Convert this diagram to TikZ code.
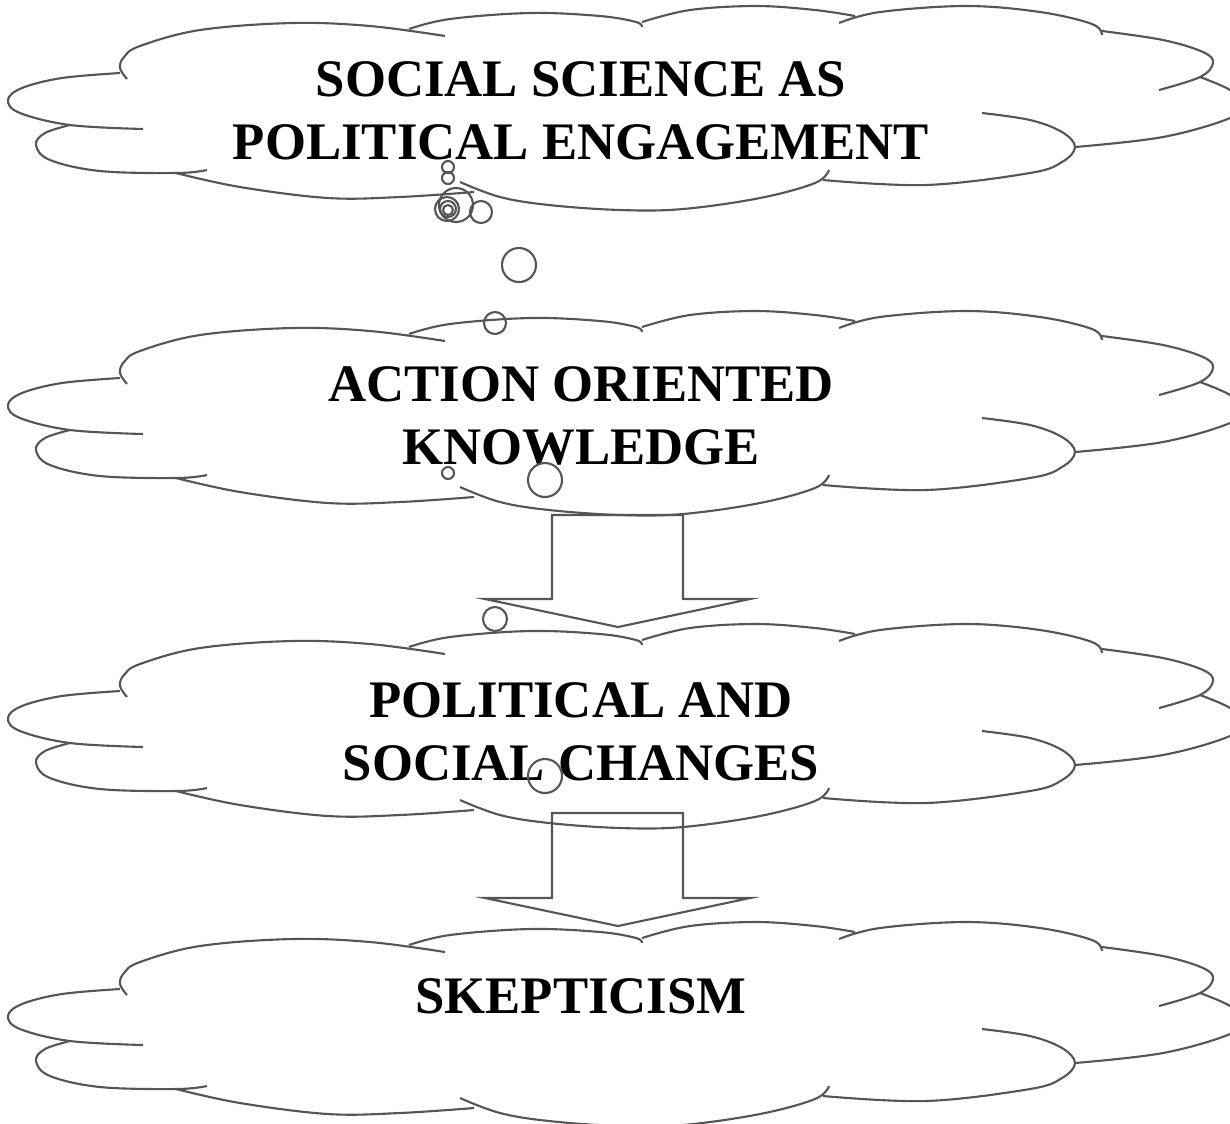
\documentclass[tikz,border=0pt]{standalone}
\usepackage{fontspec}
\setmainfont{Liberation Serif}
\usetikzlibrary{positioning}
\definecolor{cloudgray}{RGB}{85,85,85}

\tikzset{
  cloudline/.style={cloudgray,line width=0.6pt,smooth,tension=0.6},
  bubble/.style={cloudgray,line width=0.6pt},
  blockarrow/.style={cloudgray,line width=0.6pt,line join=miter},
  caption/.style={font=\bfseries\fontsize{15}{18}\selectfont,align=center,inner sep=0pt},
}

\begin{document}
\begin{tikzpicture}[x=0.01cm,y=-0.01cm]
  \useasboundingbox (0,0) rectangle (1230,1123);
  % the four clouds, one outline shifted down
  \foreach \dy in {0,305,618,916}{
    \begin{scope}[shift={(0,\dy)}]
      \draw[cloudline] plot coordinates {(127,79) (120,68) (124,57) (140,46) (200,30) (292,23) (370,26) (445,36)};
      \draw[cloudline] plot coordinates {(409,29) (450,19) (530,13) (600,16) (636,22) (642,27)};
      \draw[cloudline] plot coordinates {(642,22) (690,10) (756,6) (815,10) (855,16)};
      \draw[cloudline] plot coordinates {(839,23) (880,12) (966,6) (1040,12) (1092,24) (1102,35)};
      \draw[cloudline] plot coordinates {(1102,31) (1163,40) (1203,52) (1213,63) (1200,77) (1159,90)};
      \draw[cloudline] plot coordinates {(1200,77) (1230,90) (1240,104) (1230,118) (1163,137) (1075,147)};
      \draw[cloudline] plot coordinates {(982,113) (1030,120) (1062,132) (1075,147) (1062,162) (1030,173) (926,185) (823,180)};
      \draw[cloudline] plot coordinates {(460,182) (500,197) (549,205) (620,210) (683,209) (760,198) (815,183) (829,170)};
      \draw[cloudline] plot coordinates {(176,173) (240,187) (328,198) (400,197) (474,192)};
      \draw[cloudline] plot coordinates {(70,125) (45,133) (36,145) (50,160) (100,171) (177,173) (207,170)};
      \draw[cloudline] plot coordinates {(120,73) (62,78) (22,88) (8,100) (20,113) (70,125) (143,129)};
    \end{scope}
  }

  % texts
  \node[caption] (engage) at (581,111) {SOCIAL SCIENCE AS\\POLITICAL ENGAGEMENT};
  \node[caption] (knowledge) at (581,416) {ACTION ORIENTED\\KNOWLEDGE};
  \node[caption] (change) at (581,732) {POLITICAL AND\\SOCIAL CHANGES};
  \node[caption] (skeptic) at (581,996) {SKEPTICISM};

  % bubbles
  \draw[bubble] (448,167) circle[radius=6];
  \draw[bubble] (448,178) circle[radius=6];
  \draw[bubble] (456,205) circle[radius=17];
  \draw[bubble] (447,209) circle[radius=12];
  \draw[bubble] (448,209) circle[radius=8];
  \draw[bubble] (448,210) circle[radius=5];
  \draw[bubble] (481,212) circle[radius=11];
  \draw[bubble] (519,265) circle[radius=17];
  \draw[bubble] (495,323) circle[radius=11];
  \draw[bubble] (448,473) circle[radius=6];
  \draw[bubble] (545,480) circle[radius=17];
  \draw[bubble] (495,619) circle[radius=12];
  \draw[bubble] (545,776) circle[radius=17];

  % block arrows
  \foreach \ytop/\ysh/\ytip in {515/599/627,813/898/926}
    \draw[blockarrow] (552,\ytop) -- (683,\ytop) -- (683,\ysh) -- (750,\ysh) -- (618,\ytip)
      -- (485,\ysh) -- (552,\ysh) -- cycle;
\end{tikzpicture}
\end{document}
